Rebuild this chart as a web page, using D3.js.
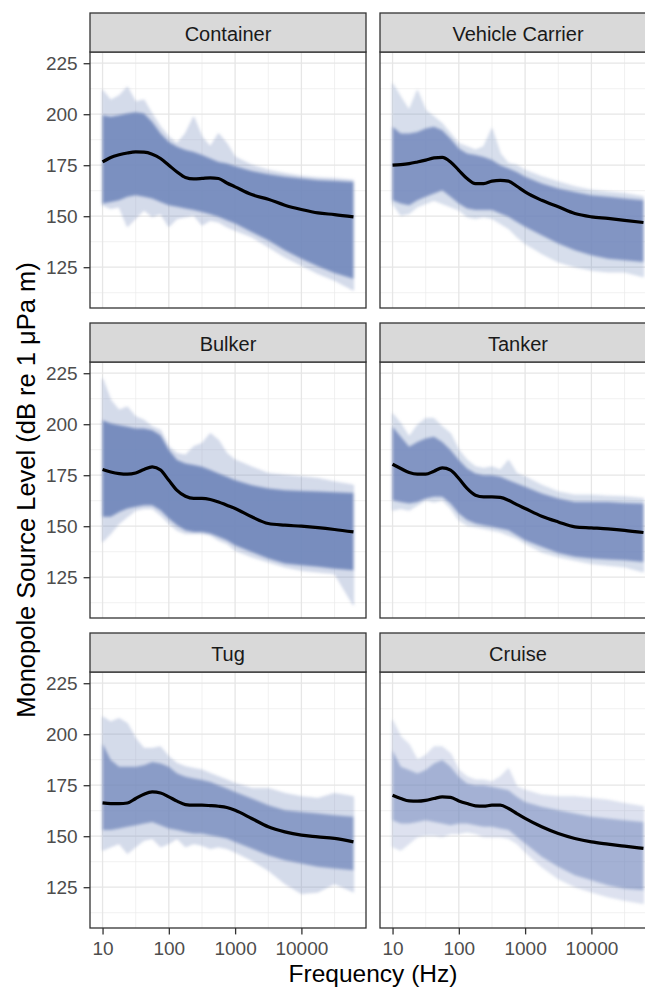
<!DOCTYPE html>
<html>
<head>
  <meta charset="utf-8">
  <title>Monopole Source Level</title>
  <script src="https://cdn.jsdelivr.net/npm/d3@7"></script>
  <style>
    body { margin: 0; background: #fff; }
    svg { display: block; font-family: "Liberation Sans", Arial, sans-serif; }
  </style>
</head>
<body>
<script>
var freqs = [10, 13.3, 17.8, 23.7, 31.6, 42.2, 56.2, 75, 100, 133, 178, 237, 316, 422, 562, 750,
             1000, 1778, 3162, 5623, 10000, 17783, 31623, 61000];

var shipTypes = ["Container", "Vehicle Carrier", "Bulker", "Tanker", "Tug", "Cruise"];

var xTicks = [10, 100, 1000, 10000];
var yTicks = [125, 150, 175, 200, 225];

// black line = mean spectrum, max/min = faint outer lines, hi/lo = dense core of the lines
var containerMean = [176.6, 178.8, 180.1, 181.0, 181.5, 181.4, 180.4, 178.3, 175.0, 171.7, 169.0, 168.3, 168.5, 168.8, 168.5, 166.3, 164.4, 160.6, 158.3, 155.4, 153.3, 151.6, 150.8, 149.7];
var containerMax  = [211.8, 206.9, 209.0, 213.4, 206.0, 207.0, 200.0, 193.8, 189.0, 185.6, 190.5, 198.7, 189.0, 184.0, 190.5, 185.6, 179.0, 175.0, 172.5, 170.9, 169.6, 168.8, 168.5, 167.6];
var containerHi   = [199.5, 198.7, 199.5, 200.3, 201.0, 200.3, 196.2, 190.5, 186.4, 184.0, 182.4, 181.5, 180.0, 178.3, 176.6, 175.8, 174.5, 172.2, 170.6, 169.3, 168.5, 167.6, 167.2, 166.8];
var containerLo   = [156.2, 157.0, 157.8, 159.5, 160.3, 159.5, 158.7, 157.0, 155.4, 154.6, 153.8, 153.0, 152.1, 151.0, 149.7, 148.0, 146.4, 142.3, 138.2, 133.3, 129.2, 125.5, 122.2, 119.4];
var containerMin  = [155.4, 153.8, 154.6, 144.8, 148.9, 153.0, 149.7, 151.3, 144.8, 148.9, 149.7, 150.5, 145.6, 148.0, 147.2, 144.8, 143.1, 139.9, 135.0, 130.0, 126.0, 121.9, 118.6, 113.7];

var carrierMean = [175.0, 175.3, 175.8, 176.6, 177.5, 178.6, 178.8, 176.6, 172.5, 168.5, 166.0, 166.0, 167.2, 167.6, 167.2, 164.7, 161.9, 157.8, 154.6, 151.3, 149.7, 148.9, 148.0, 146.9];
var carrierMax  = [215.0, 208.5, 202.0, 211.8, 202.0, 198.7, 195.4, 190.5, 185.6, 184.0, 182.4, 184.0, 193.0, 180.7, 175.8, 175.0, 172.5, 169.3, 166.8, 164.4, 162.7, 161.9, 161.1, 159.5];
var carrierHi   = [193.8, 190.5, 190.5, 191.3, 193.0, 193.8, 192.2, 188.0, 183.2, 180.7, 180.0, 179.0, 177.5, 175.0, 173.4, 171.7, 169.3, 166.0, 163.6, 161.9, 160.3, 159.5, 158.7, 157.8];
var carrierLo   = [157.8, 156.2, 155.4, 157.8, 159.5, 161.1, 162.7, 159.5, 156.2, 153.8, 153.0, 153.0, 153.0, 151.3, 149.7, 147.2, 144.8, 140.7, 136.6, 133.3, 130.9, 129.2, 128.4, 127.6];
var carrierMin  = [156.2, 150.5, 151.3, 154.6, 156.2, 157.8, 156.2, 154.6, 153.0, 149.7, 148.9, 149.7, 148.9, 146.4, 144.0, 139.9, 136.6, 131.7, 127.6, 125.2, 123.5, 122.7, 122.7, 120.3];

var bulkerMean = [177.8, 176.6, 175.8, 175.5, 176.1, 177.8, 179.1, 177.5, 172.5, 167.6, 164.7, 163.6, 163.6, 163.1, 161.9, 160.3, 158.7, 154.6, 151.3, 150.5, 150.0, 149.3, 148.4, 147.2];
var bulkerMax  = [222.4, 211.8, 206.9, 208.5, 203.6, 202.0, 198.7, 197.1, 189.0, 185.6, 184.8, 189.0, 190.5, 195.4, 192.2, 185.6, 182.4, 179.0, 175.8, 175.0, 174.2, 173.4, 171.7, 170.1];
var bulkerHi   = [202.0, 200.3, 199.5, 198.7, 197.9, 197.9, 197.1, 194.6, 187.3, 182.4, 180.7, 180.0, 179.1, 177.5, 175.8, 174.2, 172.5, 170.1, 168.5, 167.6, 167.3, 167.0, 166.7, 166.3];
var bulkerLo   = [154.6, 154.6, 157.0, 158.7, 159.5, 160.3, 160.3, 157.8, 153.8, 150.5, 148.0, 147.2, 147.2, 146.4, 144.8, 143.1, 140.7, 137.4, 134.2, 131.7, 130.9, 130.1, 129.2, 128.4];
var bulkerMin  = [142.3, 146.4, 151.3, 154.6, 157.8, 158.7, 158.7, 155.4, 151.3, 148.0, 146.4, 146.4, 146.4, 145.6, 143.1, 141.5, 138.2, 135.0, 132.5, 130.0, 128.4, 127.6, 126.8, 111.3];

var tankerMean = [180.4, 178.3, 176.3, 175.5, 175.5, 177.0, 178.6, 177.5, 173.4, 168.5, 165.2, 164.4, 164.4, 164.1, 162.7, 160.6, 158.7, 154.9, 152.1, 149.7, 149.2, 148.7, 148.0, 146.9];
var tankerMax  = [205.2, 200.3, 193.8, 199.5, 202.8, 202.8, 198.7, 195.4, 187.3, 182.4, 179.1, 178.3, 179.1, 177.5, 182.4, 175.8, 174.2, 170.1, 166.8, 165.2, 165.2, 164.7, 164.4, 163.6];
var tankerHi   = [198.7, 193.8, 188.9, 191.3, 193.0, 193.8, 191.3, 187.3, 182.4, 178.3, 175.8, 175.0, 175.0, 174.2, 172.5, 170.9, 169.3, 166.0, 163.6, 161.9, 161.9, 161.9, 161.4, 161.1];
var tankerLo   = [162.7, 161.9, 161.1, 161.9, 163.6, 164.4, 164.4, 161.1, 156.2, 153.0, 151.3, 150.5, 149.7, 148.9, 148.0, 145.6, 143.1, 139.9, 136.9, 135.0, 134.2, 133.7, 133.3, 132.5];
var tankerMin  = [157.8, 158.7, 157.8, 160.3, 162.7, 161.9, 162.7, 158.7, 153.0, 150.5, 149.7, 148.9, 148.0, 147.2, 145.6, 144.0, 141.5, 137.4, 135.0, 133.3, 131.7, 130.9, 130.1, 127.6];

var tugMean = [166.3, 166.0, 166.0, 166.3, 168.5, 170.6, 171.7, 171.2, 169.3, 167.2, 165.5, 165.2, 165.2, 165.0, 164.7, 164.1, 162.7, 158.7, 154.6, 152.1, 150.5, 149.7, 148.9, 147.2];
var tugMax  = [208.5, 206.0, 207.7, 205.2, 197.9, 193.0, 193.0, 193.8, 189.0, 185.6, 184.0, 183.2, 182.4, 180.7, 179.1, 177.5, 175.8, 173.4, 173.4, 170.9, 169.3, 168.5, 170.9, 169.3];
var tugHi   = [195.4, 187.3, 184.0, 184.0, 184.0, 184.8, 186.4, 185.6, 184.0, 180.7, 179.1, 178.3, 177.5, 176.6, 175.0, 173.4, 171.7, 168.5, 165.2, 162.7, 161.9, 161.1, 160.3, 159.5];
var tugLo   = [153.0, 153.0, 153.8, 154.6, 155.4, 156.2, 157.0, 155.4, 153.8, 153.0, 152.1, 151.3, 151.3, 150.5, 149.7, 148.9, 147.2, 144.0, 140.7, 138.2, 136.6, 135.0, 134.2, 133.3];
var tugMin  = [143.1, 144.8, 146.4, 141.5, 144.8, 148.0, 148.9, 144.8, 146.4, 148.9, 144.8, 146.4, 145.6, 144.0, 144.8, 144.0, 142.3, 138.2, 133.3, 126.8, 121.9, 122.7, 126.8, 122.7];

var cruiseMean = [170.1, 168.5, 167.3, 167.2, 167.6, 168.5, 169.3, 169.0, 167.3, 166.0, 164.9, 164.7, 165.2, 165.2, 163.6, 161.1, 158.7, 154.6, 151.3, 148.9, 147.2, 146.1, 145.1, 144.0];
var cruiseMax  = [206.9, 198.7, 195.0, 187.3, 189.7, 193.8, 193.8, 190.5, 182.4, 179.1, 177.5, 177.5, 176.6, 179.1, 183.2, 174.2, 172.5, 170.1, 169.3, 169.3, 168.5, 167.6, 166.0, 164.4];
var cruiseHi   = [192.2, 184.0, 182.4, 180.7, 182.4, 185.6, 187.3, 184.0, 179.1, 175.8, 175.0, 175.0, 174.2, 173.4, 172.5, 169.3, 166.8, 164.4, 162.7, 161.1, 159.5, 158.7, 157.8, 157.0];
var cruiseLo   = [157.8, 156.2, 156.2, 157.0, 157.8, 157.0, 156.2, 155.4, 156.2, 156.2, 155.4, 154.6, 154.6, 153.8, 153.0, 149.7, 146.4, 139.9, 135.0, 130.9, 128.4, 126.0, 124.3, 123.5];
var cruiseMin  = [144.8, 143.1, 146.4, 149.7, 150.5, 150.5, 149.7, 151.3, 151.3, 152.1, 151.3, 149.7, 149.7, 149.7, 148.9, 146.4, 142.3, 135.0, 129.2, 125.2, 122.7, 120.3, 118.6, 117.0];

// table for the facets, built from the arrays above
var panels = [
  {name: shipTypes[0], mean: containerMean, max: containerMax, hi: containerHi, lo: containerLo, min: containerMin, core: 0.9, outer: 0.3},
  {name: shipTypes[1], mean: carrierMean, max: carrierMax, hi: carrierHi, lo: carrierLo, min: carrierMin, core: 0.84, outer: 0.28},
  {name: shipTypes[2], mean: bulkerMean, max: bulkerMax, hi: bulkerHi, lo: bulkerLo, min: bulkerMin, core: 0.92, outer: 0.3},
  {name: shipTypes[3], mean: tankerMean, max: tankerMax, hi: tankerHi, lo: tankerLo, min: tankerMin, core: 0.84, outer: 0.28},
  {name: shipTypes[4], mean: tugMean, max: tugMax, hi: tugHi, lo: tugLo, min: tugMin, core: 0.74, outer: 0.3},
  {name: shipTypes[5], mean: cruiseMean, max: cruiseMax, hi: cruiseHi, lo: cruiseLo, min: cruiseMin, core: 0.52, outer: 0.24}
];

var breite = 645;
var hoehe = 991;
var panelW = 276;
var panelH = 256;
var stripH = 39;
var colX = [90, 380];
var rowTop = [13, 323, 633];
var blue = "#7187bb";

var svg = d3.select("body")
            .append("svg")
            .attr("width", breite)
            .attr("height", hoehe);

// soft edges, so the bands read like a bundle of thin lines
var defs = svg.append("defs");
defs.append("filter").attr("id", "soft")
    .attr("x", "-5%").attr("y", "-5%").attr("width", "110%").attr("height", "110%")
    .append("feGaussianBlur").attr("stdDeviation", 1.6);

// log x scale with ggplot style 5% expansion
var lmin = Math.log10(d3.min(freqs)), lmax = Math.log10(d3.max(freqs));
var padX = (lmax - lmin) * 0.05;
var x = d3.scaleLog()
          .domain([Math.pow(10, lmin - padX), Math.pow(10, lmax + padX)])
          .range([0, panelW]);
var y = d3.scaleLinear()
          .domain([105, 230.5])
          .range([panelH, 0]);

var xMinor = [Math.pow(10, 1.5), Math.pow(10, 2.5), Math.pow(10, 3.5), Math.pow(10, 4.5)];
var yMinor = [112.5, 137.5, 162.5, 187.5, 212.5];

var band = function(top, bottom) {
  return d3.area()
           .x(function(d, i) { return x(freqs[i]); })
           .y0(function(d, i) { return y(bottom[i]); })
           .y1(function(d, i) { return y(top[i]); });
};
var meanLine = d3.line()
                 .x(function(d, i) { return x(freqs[i]); })
                 .y(function(d) { return y(d); })
                 .curve(d3.curveMonotoneX);

function styleAxis(a) {
  a.select(".domain").remove();
  a.attr("font-family", null).attr("font-size", null);
  a.selectAll("line").attr("stroke", "#333").attr("stroke-width", 1.3);
  a.selectAll("text").attr("fill", "#4d4d4d").attr("font-size", 19);
}

panels.forEach(function(p, k) {
  var col = k % 2, row = Math.floor(k / 2);
  var g = svg.append("g")
             .attr("transform", "translate(" + colX[col] + "," + (rowTop[row] + stripH) + ")");

  g.append("clipPath").attr("id", "clip" + k)
   .append("rect").attr("width", panelW).attr("height", panelH);

  // grid
  g.selectAll(".gy").data(yMinor).enter().append("line")
   .attr("x1", 0).attr("x2", panelW)
   .attr("y1", function(d) { return y(d); }).attr("y2", function(d) { return y(d); })
   .attr("stroke", "#ebebeb").attr("stroke-width", 0.7);
  g.selectAll(".gx").data(xMinor).enter().append("line")
   .attr("y1", 0).attr("y2", panelH)
   .attr("x1", function(d) { return x(d); }).attr("x2", function(d) { return x(d); })
   .attr("stroke", "#ebebeb").attr("stroke-width", 0.7);
  g.selectAll(".gY").data(yTicks).enter().append("line")
   .attr("x1", 0).attr("x2", panelW)
   .attr("y1", function(d) { return y(d); }).attr("y2", function(d) { return y(d); })
   .attr("stroke", "#e6e6e6").attr("stroke-width", 1.3);
  g.selectAll(".gX").data(xTicks).enter().append("line")
   .attr("y1", 0).attr("y2", panelH)
   .attr("x1", function(d) { return x(d); }).attr("x2", function(d) { return x(d); })
   .attr("stroke", "#e6e6e6").attr("stroke-width", 1.3);

  var inner = g.append("g").attr("clip-path", "url(#clip" + k + ")");
  var soft = inner.append("g").attr("filter", "url(#soft)");
  // faint spread of all the spectra
  soft.append("path")
      .attr("d", band(p.max, p.min)(freqs))
      .attr("fill", blue).attr("fill-opacity", p.outer)
      .attr("stroke", blue).attr("stroke-opacity", p.outer).attr("stroke-width", 0.8);
  // dense core
  soft.append("path")
      .attr("d", band(p.hi, p.lo)(freqs))
      .attr("fill", blue).attr("fill-opacity", p.core);
  // mean
  inner.append("path")
       .attr("d", meanLine(p.mean))
       .attr("fill", "none").attr("stroke", "#000").attr("stroke-width", 3.2)
       .attr("stroke-linejoin", "round");

  g.append("rect")
   .attr("width", panelW).attr("height", panelH)
   .attr("fill", "none").attr("stroke", "#333").attr("stroke-width", 1.3);

  // strip
  g.append("rect")
   .attr("y", -stripH).attr("width", panelW).attr("height", stripH)
   .attr("fill", "#d9d9d9").attr("stroke", "#333").attr("stroke-width", 1.3);
  g.append("text")
   .attr("x", panelW / 2).attr("y", -stripH + 28)
   .attr("text-anchor", "middle")
   .attr("font-size", 20).attr("fill", "#1a1a1a")
   .text(p.name);

  if (col == 0) {
    var ay = g.append("g")
              .call(d3.axisLeft(y).tickValues(yTicks).tickSize(6.4).tickPadding(6));
    styleAxis(ay);
  }
  if (row == 2) {
    var ax = g.append("g")
              .attr("transform", "translate(0," + panelH + ")")
              .call(d3.axisBottom(x).tickValues(xTicks).tickFormat(d3.format("d")).tickSize(6.4).tickPadding(7));
    styleAxis(ax);
  }
});

// axis titles
svg.append("text")
   .attr("transform", "translate(35," + (rowTop[0] + stripH + rowTop[2] + stripH + panelH) / 2 + ") rotate(-90)")
   .attr("text-anchor", "middle")
   .attr("font-size", 25.5)
   .text("Monopole Source Level (dB re 1 μPa m)");
svg.append("text")
   .attr("x", (colX[0] + colX[1] + panelW) / 2)
   .attr("y", 982)
   .attr("text-anchor", "middle")
   .attr("font-size", 24.5)
   .text("Frequency (Hz)");
</script>
</body>
</html>
